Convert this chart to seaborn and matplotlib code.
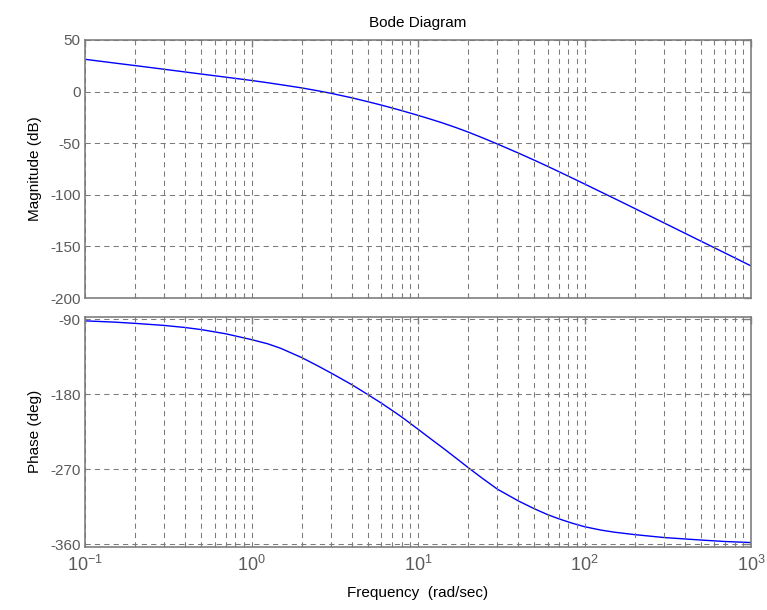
import numpy as np
import matplotlib
matplotlib.use("Agg")
import matplotlib.pyplot as plt
import seaborn as sns
from matplotlib.ticker import LogLocator, LogFormatterMathtext, NullFormatter

# values
freq = [0.1, 0.15, 0.2, 0.3, 0.4, 0.5, 0.7, 1, 1.25, 1.5, 2, 2.5, 3, 4, 5, 6, 7, 8,
        10, 12, 14, 17, 20, 24, 30, 40, 50, 60, 70, 85, 100, 125, 150, 200, 300,
        500, 700, 1000]
mag_db = [31.3, 27.7, 25.2, 21.6, 19.0, 17.0, 14.0, 10.8, 8.6, 6.7, 3.6, 0.8, -1.65,
          -6.0, -9.8, -13.0, -15.9, -18.5, -23.0, -26.9, -30.3, -35.0, -39.2, -44.3,
          -50.8, -59.5, -66.5, -72.4, -77.5, -84.0, -89.5, -97.1, -103.3, -113.2,
          -127.2, -144.9, -156.5, -168.9]
phase_deg = [-92, -93.5, -95, -97.5, -100, -102.5, -107.5, -114.5, -119.5, -125, -136,
             -146, -154.5, -168.5, -180.5, -190.5, -199.5, -207.5, -222, -234, -244,
             -257, -268, -280, -294, -308, -317.5, -324.5, -329.5, -335, -339, -343,
             -345.5, -348.5, -352, -355, -356.8, -358]

mag_ticks = [50, 0, -50, -100, -150, -200]
phase_ticks = [-90, -180, -270, -360]

sns.set_theme(style="white")
plt.rcParams["font.family"] = ["Liberation Sans", "DejaVu Sans"]
plt.rcParams["axes.unicode_minus"] = False
plt.rcParams["mathtext.fontset"] = "custom"
plt.rcParams["mathtext.rm"] = "Liberation Sans"
plt.rcParams["mathtext.it"] = "Liberation Sans"

edge = "#7f7f7f"
tick_col = "#5a5a5a"
grid_kw = dict(color="#7a7a7a", linestyle=(0, (5, 4)), linewidth=0.75)

fig = plt.figure(figsize=(7.67, 6.10), dpi=100)
ax1 = fig.add_axes([85 / 767, 1 - 298 / 610, 666 / 767, 258 / 610])
ax2 = fig.add_axes([85 / 767, 1 - 546.7 / 610, 666 / 767, 230 / 610])

sns.lineplot(x=freq, y=mag_db, ax=ax1, color="#0000ff", linewidth=1.0)
sns.lineplot(x=freq, y=phase_deg, ax=ax2, color="#0000ff", linewidth=1.0)

for ax in (ax1, ax2):
    ax.set_xscale("log")
    ax.set_xlim(0.1, 1000)
    ax.xaxis.set_major_locator(LogLocator(base=10, numticks=10))
    ax.xaxis.set_minor_locator(LogLocator(base=10, subs=np.arange(2, 10), numticks=100))
    ax.xaxis.set_minor_formatter(NullFormatter())
    ax.grid(True, which="major", axis="both", **grid_kw)
    ax.grid(True, which="minor", axis="x", **grid_kw)
    ax.set_axisbelow(False)
    for s in ax.spines.values():
        s.set_color(edge)
        s.set_linewidth(1.2)
        s.set_visible(True)
    ax.tick_params(which="major", direction="in", length=5, width=1, color=edge,
                   top=True, right=True, labelsize=11, labelcolor=tick_col, pad=3)
    ax.tick_params(which="minor", direction="in", length=3, width=0.8, color=edge,
                   top=True, bottom=True)

ax1.set_ylim(-200, 50)
ax1.set_yticks(mag_ticks)
ax1.set_yticklabels([str(t) for t in mag_ticks])
ax1.tick_params(axis="x", labelbottom=False)
ax1.set_ylabel("Magnitude (dB)", fontsize=11, color="black", labelpad=6)
ax1.set_title("Bode Diagram", fontsize=11, color="black", pad=9)

ax2.set_ylim(-363, -87)
ax2.set_yticks(phase_ticks)
ax2.set_yticklabels([str(t) for t in phase_ticks])
ax2.xaxis.set_major_formatter(LogFormatterMathtext())
ax2.tick_params(axis="x", labelsize=13, pad=6)
ax2.set_ylabel("Phase (deg)", fontsize=11, color="black", labelpad=6)
ax2.set_xlabel("Frequency  (rad/sec)", fontsize=11, color="black", labelpad=8)

fig.savefig("out.png", dpi=100)
